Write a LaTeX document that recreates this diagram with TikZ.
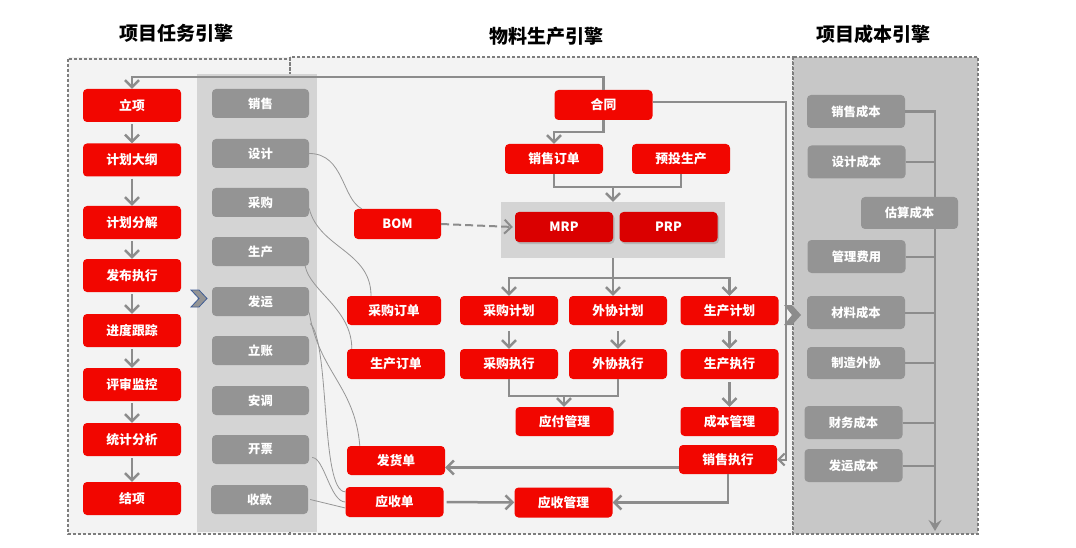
\documentclass[tikz,border=0pt]{standalone}
\usepackage{fontspec}
\setmainfont{Noto Sans CJK SC}
\usepackage{tikz}
\usetikzlibrary{arrows.meta,shadows}

\definecolor{boxred}{RGB}{242,6,0}
\definecolor{mrpred}{RGB}{218,0,0}
\definecolor{boxgray}{RGB}{148,148,148}
\definecolor{linegray}{RGB}{140,140,140}
\definecolor{dotgray}{RGB}{125,125,125}
\definecolor{curvegray}{RGB}{150,150,150}
\definecolor{panelbg}{RGB}{243,243,243}
\definecolor{bandgray}{RGB}{212,212,212}
\definecolor{costbg}{RGB}{199,199,199}
\definecolor{chevblue}{RGB}{62,92,150}

\begin{document}
\begin{tikzpicture}[x=1pt,y=-1pt,
	taskbox/.style={rectangle,rounded corners=4pt,fill=boxred,text=white,font=\fontsize{12.8}{14}\selectfont\bfseries,minimum width=98pt,minimum height=33pt,inner sep=0pt},
	flowbox/.style={taskbox,minimum height=30pt},
	mrpbox/.style={flowbox,fill=mrpred,drop shadow={shadow xshift=1.5pt,shadow yshift=-2pt,opacity=0.35}},
	deptbox/.style={rectangle,rounded corners=4pt,fill=boxgray,text=white,font=\fontsize{12.3}{14}\selectfont\bfseries,minimum width=97pt,minimum height=29pt,inner sep=0pt},
	costbox/.style={deptbox,minimum width=98pt,minimum height=33pt},
	title/.style={font=\fontsize{19}{22}\selectfont\bfseries,text=black},
	dotborder/.style={draw=dotgray,line width=2.6pt,dash pattern=on 2.6pt off 2.4pt},
	arr/.style={draw=linegray,line width=2.5pt,-{Straight Barb[length=7pt,width=14pt]}},
	line/.style={draw=linegray,line width=2.5pt},
	thinarr/.style={draw=linegray,line width=2pt,-{Straight Barb[length=6pt,width=12pt]}},
	curve/.style={draw=curvegray,line width=0.8pt},
	costline/.style={draw=linegray,line width=2pt},
	costarr/.style={draw=linegray,line width=2.2pt,-{Stealth[length=11pt,width=13pt,inset=4pt]}}]

	\useasboundingbox (0,0) rectangle (1076,548);

	% panels
	\fill[panelbg] (68,57) rectangle (793,534);
	\draw[dotborder] (68,59) rectangle (290,534);
	\draw[dotborder] (290,57) rectangle (793,534);
	\fill[bandgray] (197,74) rectangle (317,532);
	\fill[costbg] (793,57) rectangle (978,534);
	\draw[dotborder] (793,57) rectangle (978,534);

	\node[title] (t1) at (176,33) {项目任务引擎};
	\node[title] (t2) at (546,36) {物料生产引擎};
	\node[title] (t3) at (873,34) {项目成本引擎};

	% project tasks
	\node[taskbox] (lixiang)  at (132,105.5) {立项};
	\node[taskbox] (dagang)   at (132,160)   {计划大纲};
	\node[taskbox] (fenjie)   at (132,222.5) {计划分解};
	\node[taskbox] (fabu)     at (132,275.5) {发布执行};
	\node[taskbox] (genzong)  at (132,330.5) {进度跟踪};
	\node[taskbox] (jiankong) at (132,384.5) {评审监控};
	\node[taskbox] (fenxi)    at (132,439.5) {统计分析};
	\node[taskbox] (jiexiang) at (132,498.5) {结项};

	\path[arr,shorten <=2pt]
		(lixiang)  edge (dagang)
		(dagang)   edge (fenjie)
		(fenjie)   edge (fabu)
		(fabu)     edge (genzong)
		(genzong)  edge (jiankong)
		(jiankong) edge (fenxi)
		(fenxi)    edge (jiexiang);

	% departments
	\node[deptbox] (xiaoshou) at (260.5,103.5) {销售};
	\node[deptbox] (sheji)    at (260.5,153.5) {设计};
	\node[deptbox] (caigou)   at (260.5,202.5) {采购};
	\node[deptbox] (shengchan) at (260.5,251.5) {生产};
	\node[deptbox] (fayun)    at (260.5,301.5) {发运};
	\node[deptbox] (lizhang)  at (260.5,350.5) {立账};
	\node[deptbox] (antiao)   at (260.5,400.5) {安调};
	\node[deptbox] (kaipiao)  at (260.5,449.5) {开票};
	\node[deptbox] (shoukuan) at (259.5,499.5) {收款};

	% material production
	\node[fill=bandgray,minimum width=224pt,minimum height=56pt,inner sep=0pt] (mrpbg) at (613,230) {};
	\node[flowbox] (hetong) at (603.5,105) {合同};
	\node[flowbox] (xsdd)   at (554,159)   {销售订单};
	\node[flowbox] (ytsc)   at (681,159)   {预投生产};
	\node[flowbox,minimum width=87pt] (bom) at (397.5,224) {BOM};
	\node[mrpbox] (mrp) at (564,227)   {MRP};
	\node[mrpbox] (prp) at (668.5,227) {PRP};
	\node[flowbox,minimum width=94pt,minimum height=29pt] (cgdd) at (394,310.5) {采购订单};
	\node[flowbox,minimum height=29pt] (cgjh) at (509,310.5)   {采购计划};
	\node[flowbox,minimum height=29pt] (wxjh) at (618,310.5)   {外协计划};
	\node[flowbox,minimum height=29pt] (scjh) at (729.5,310.5) {生产计划};
	\node[flowbox] (scdd) at (396,364)   {生产订单};
	\node[flowbox] (cgzx) at (509,364)   {采购执行};
	\node[flowbox] (wxzx) at (618,364)   {外协执行};
	\node[flowbox] (sczx) at (729.5,364) {生产执行};
	\node[flowbox,minimum height=29pt] (yfgl) at (564.5,421.5) {应付管理};
	\node[flowbox,minimum height=29pt] (cbgl) at (729.5,421.5) {成本管理};
	\node[flowbox,minimum height=29pt] (fhd)  at (396,460.5) {发货单};
	\node[flowbox,minimum height=29pt] (xszx) at (728,459.5) {销售执行};
	\node[flowbox] (ysd)  at (394.5,502)   {应收单};
	\node[flowbox] (ysgl) at (563.5,502.5) {应收管理};

	\coordinate (j1) at (613,187);
	\coordinate (j3) at (564,396);
	\coordinate (rturn) at (786,102);

	\draw[arr] (hetong.north) -- ++(0,-13) -| (lixiang.north);
	\draw[arr] (hetong.south) -- ++(0,12) -| (xsdd.north);
	\draw[line] (xsdd.south) -- ++(0,13) -| (ytsc.south);
	\draw[arr] (j1) -- (mrpbg.north);
	\draw[arr,dash pattern=on 8pt off 4pt,line width=2pt] (bom.east) -- ([xshift=-2pt]mrp.west);
	\draw[line] (mrpbg.south) -- ++(0,20) coordinate (j2);
	\draw[arr] (j2) -| (cgjh.north);
	\draw[arr] (j2) -| (scjh.north);
	\draw[arr] (j2) -- (j2 |- wxjh.north);
	\path[arr,shorten <=6pt]
		(cgjh) edge (cgzx)
		(wxjh) edge (wxzx)
		(scjh) edge (sczx);
	\draw[line] (cgzx.south) -- ++(0,17) -| (wxzx.south);
	\draw[arr] (j3) -- (j3 |- yfgl.north);
	\path[arr,shorten <=3pt] (sczx) edge (cbgl);
	\draw[arr] ([yshift=-8pt]xszx.west) -- ([yshift=-8pt]xszx.west -| fhd.east);
	\draw[arr] (xszx.south) |- (ysgl.east);
	\path[arr,shorten <=3pt] (ysd) edge (ysgl);
	\draw[thinarr] ([yshift=3pt]hetong.east) -- (rturn) |- (xszx.east);

	% department links
	\draw[curve] (sheji.east) .. controls +(35,0) and +(-20,-10) .. ([xshift=8pt]bom.north west);
	\draw[curve] ([yshift=-6pt]caigou.east) .. controls +(10,40) and +(0,-45) .. ([xshift=-23pt]cgdd.north);
	\draw[curve] ([xshift=-4pt]shengchan.south east) .. controls +(5,25) and +(0,-40) .. ([xshift=5pt]scdd.north west);
	\draw[curve] ([yshift=-11pt]fayun.east) .. controls +(10,60) and +(-5,-60) .. ([xshift=13pt]fhd.north west);
	\draw[curve] ([xshift=1pt,yshift=-22pt]fayun.east) .. controls +(20,20) and +(-25,0) .. ([yshift=-5pt]ysd.north west);
	\draw[curve] ([xshift=3pt,yshift=-8pt]kaipiao.east) .. controls +(12,0) and +(-15,0) .. (ysd.west);
	\draw[curve] ([xshift=2pt]shoukuan.east) -- ([yshift=-6pt]ysd.west);

	% chevrons
	\filldraw[fill=boxgray,draw=chevblue,line width=0.8pt] (191,290) -- (199,290) -- (207,298.5) -- (199,307) -- (191,307) -- (199,298.5) -- cycle;
	\fill[linegray] (784,305) -- (792,305) -- (801,315) -- (792,325) -- (784,325) -- (792,315) -- cycle;

	% project cost
	\node[costbox] (xscb) at (856,111.5)   {销售成本};
	\node[costbox] (sjcb) at (856.5,162)   {设计成本};
	\node[costbox] (glfy) at (856.5,256.5) {管理费用};
	\node[costbox] (clcb) at (856,312.5)   {材料成本};
	\node[costbox,minimum height=32pt] (zzwx) at (856,363) {制造外协};
	\node[costbox] (cwcb) at (853.5,422.5) {财务成本};
	\node[costbox] (fycb) at (853.5,465.5) {发运成本};

	\coordinate (cbot) at (935,531);
	\draw[costarr] (xscb.east) -| (cbot);
	\draw[costline]
		(sjcb.east) -- (sjcb.east -| cbot)
		(glfy.east) -- (glfy.east -| cbot)
		(clcb.east) -- (clcb.east -| cbot)
		(zzwx.east) -- (zzwx.east -| cbot)
		(cwcb.east) -- (cwcb.east -| cbot)
		(fycb.east) -- (fycb.east -| cbot);

	\node[costbox,minimum width=97pt,minimum height=32pt] (gscb) at (909.5,213) {估算成本};

\end{tikzpicture}
\end{document}
